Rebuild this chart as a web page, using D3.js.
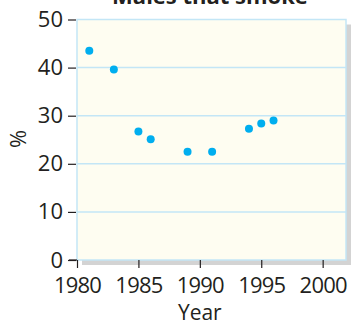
<!DOCTYPE html>
<html>
<head>
<meta charset="utf-8">
<script src="https://cdn.jsdelivr.net/npm/d3@7"></script>
<style>
  html, body { margin: 0; padding: 0; background: #ffffff; }
  svg { display: block; }
  text { font-family: "Open Sans", "Noto Sans", sans-serif; fill: #231f20; }
</style>
</head>
<body>
<svg id="chart" width="351" height="323"></svg>
<script>
// Share of males who smoke, by survey year
const years = [1981, 1983, 1985, 1986, 1989, 1991, 1994, 1995, 1996];
const percents = [43.5, 39.6, 26.7, 25.1, 22.5, 22.5, 27.3, 28.4, 29.0];
const xTicks = [1980, 1985, 1990, 1995, 2000];
const yTicks = [0, 10, 20, 30, 40, 50];
const title = "Males that smoke";

const svg = d3.select("#chart");
const margin = { left: 77, top: 19.5, right: 5, bottom: 63 };
const W = 351, H = 323;

const x = d3.scaleLinear().domain([1980, 2001.9]).range([margin.left, W - margin.right]);
const y = d3.scaleLinear().domain([0, 50]).range([H - margin.bottom, margin.top]);

const x0 = x.range()[0], x1 = x.range()[1];
const y0 = y.range()[1], y1 = y.range()[0];

// title (mostly above the visible area)
svg.append("text")
  .attr("x", 210).attr("y", 4)
  .attr("text-anchor", "middle")
  .attr("font-size", 22).attr("font-weight", 700)
  .text(title);

// drop shadow behind the panel
svg.append("rect")
  .attr("x", x0 + 5).attr("y", y0 + 5)
  .attr("width", x1 - x0).attr("height", y1 - y0)
  .attr("fill", "#d3d3d3");

// panel
svg.append("rect")
  .attr("x", x0).attr("y", y0)
  .attr("width", x1 - x0).attr("height", y1 - y0)
  .attr("fill", "#fefdf1");

// horizontal grid
svg.append("g").selectAll("line")
  .data(yTicks.filter(d => d > 0 && d < 50))
  .join("line")
  .attr("x1", x0).attr("x2", x1)
  .attr("y1", d => y(d)).attr("y2", d => y(d))
  .attr("stroke", "#c3e6f6").attr("stroke-width", 1.5);

// panel border
svg.append("rect")
  .attr("x", x0).attr("y", y0)
  .attr("width", x1 - x0).attr("height", y1 - y0)
  .attr("fill", "none")
  .attr("stroke", "#c3e6f6").attr("stroke-width", 1.5);

// y axis
const yAxis = svg.append("g")
  .attr("transform", `translate(${x0 - 1},0)`)
  .call(d3.axisLeft(y).tickValues(yTicks).tickSize(8).tickPadding(5).tickFormat(d3.format("d")));
yAxis.select(".domain").remove();
yAxis.selectAll(".tick line").attr("stroke", "#231f20").attr("stroke-width", 1.2);
yAxis.selectAll(".tick text").attr("font-size", 22).attr("fill", "#231f20")
  .attr("font-family", "'Open Sans', sans-serif");

// x axis
const xAxis = svg.append("g")
  .attr("transform", `translate(0,${y1})`)
  .call(d3.axisBottom(x).tickValues(xTicks).tickSize(8).tickPadding(9).tickFormat(d3.format("d")));
xAxis.select(".domain").remove();
xAxis.selectAll(".tick line").attr("stroke", "#231f20").attr("stroke-width", 1.2);
xAxis.selectAll(".tick text").attr("font-size", 22).attr("fill", "#231f20")
  .attr("letter-spacing", -0.8)
  .attr("font-family", "'Open Sans', sans-serif");

// corner where the two axes meet
svg.append("line")
  .attr("x1", x0 - 8).attr("x2", x0)
  .attr("y1", y1).attr("y2", y1)
  .attr("stroke", "#231f20").attr("stroke-width", 1.2);

// axis titles
svg.append("text")
  .attr("x", (x(1980) + x(2000)) / 2).attr("y", 320)
  .attr("text-anchor", "middle")
  .attr("font-size", 21)
  .text("Year");

svg.append("text")
  .attr("transform", `translate(26,139) rotate(-90)`)
  .attr("text-anchor", "middle")
  .attr("font-size", 22)
  .text("%");

// data points
svg.append("g").selectAll("circle")
  .data(years.map((yr, i) => ({ yr, v: percents[i] })))
  .join("circle")
  .attr("cx", d => x(d.yr)).attr("cy", d => y(d.v))
  .attr("r", 4)
  .attr("fill", "#00aeef");
</script>
</body>
</html>
